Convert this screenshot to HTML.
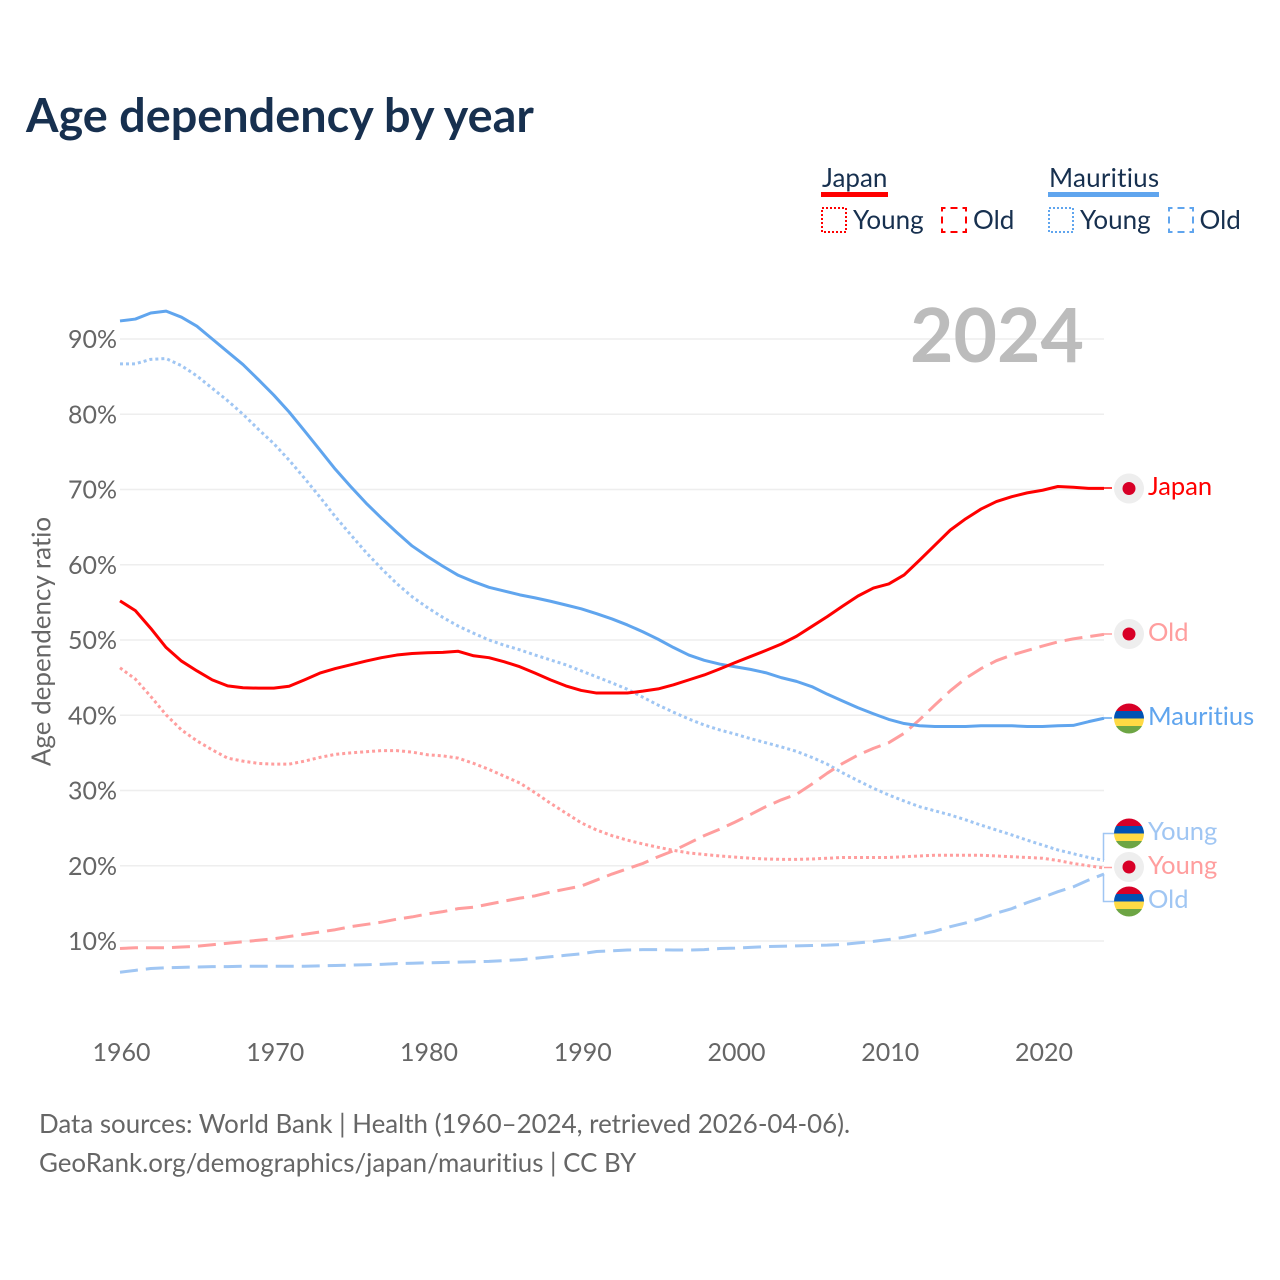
<!DOCTYPE html>
<html lang="en">
<head>
<meta charset="utf-8">
<title>Age dependency by year</title>
<style>
html,body{margin:0;padding:0;background:#fff;}
svg{display:block;}
text{font-family:"Lato","Carlito","Liberation Sans",sans-serif;font-variant-ligatures:none;}
</style>
</head>
<body>
<svg id="chart" xmlns="http://www.w3.org/2000/svg" width="1280" height="1280" viewBox="0 0 1280 1280">
  <defs>
    <clipPath id="clip-flag"><circle cx="0" cy="0" r="15"/></clipPath>
  </defs>
  <rect width="1280" height="1280" fill="#fff"/>
  <text x="26" y="132" font-size="46.800" font-weight="700" fill="#17304f">Age dependency by year</text>

  <g font-size="26" fill="#17304f">
    <text x="822" y="187">Japan</text>
    <rect x="821" y="192" width="67" height="5" fill="#ff0000"/>
    <rect x="822" y="208" width="24" height="24" fill="none" stroke="#ff0000" stroke-width="2" stroke-dasharray="2 2"/>
    <text x="853" y="229">Young</text>
    <rect x="942" y="208" width="24" height="24" fill="none" stroke="#ff0000" stroke-width="2" stroke-dasharray="7 5" stroke-dashoffset="3.500"/>
    <text x="973" y="229">Old</text>
    <text x="1049" y="187" letter-spacing="0.25">Mauritius</text>
    <rect x="1048" y="192" width="111" height="5" fill="#60a5ee"/>
    <rect x="1049" y="208" width="24" height="24" fill="none" stroke="#60a5ee" stroke-width="2" stroke-dasharray="2 2"/>
    <text x="1080" y="229">Young</text>
    <rect x="1169" y="208" width="24" height="24" fill="none" stroke="#60a5ee" stroke-width="2" stroke-dasharray="7 5" stroke-dashoffset="3.500"/>
    <text x="1199.500" y="229">Old</text>
  </g>

  <g id="grid"></g>
  <g id="y-ticks"></g>
  <g id="x-ticks"></g>
  <text transform="translate(50.500 641.500) rotate(-90)" text-anchor="middle" font-size="26" fill="#666">Age dependency ratio</text>
  <text x="1084" y="362" text-anchor="end" font-size="75" font-weight="700" fill="#bcbcbc">2024</text>
  <g id="series"></g>

  <g fill="none" stroke-width="1.5">
    <path d="M1104 488H1112" stroke="#ff0000"/>
    <path d="M1104 634H1112" stroke="#ff9e9e"/>
    <path d="M1104 718H1112" stroke="#60a5ee"/>
    <path d="M1103.500 860V833.500H1114" stroke="#a0c6f3"/>
    <path d="M1104 867.500H1112" stroke="#ff9e9e"/>
    <path d="M1103.500 874V901.500H1114" stroke="#a0c6f3"/>
  </g>

  <g transform="translate(1129 488.500)">
    <circle r="15" fill="#eeeeee"/><circle r="6.500" fill="#d80027"/>
  </g>
  <g transform="translate(1129 634)">
    <circle r="15" fill="#eeeeee"/><circle r="6.500" fill="#d80027"/>
  </g>
  <g transform="translate(1129 867)">
    <circle r="15" fill="#eeeeee"/><circle r="6.500" fill="#d80027"/>
  </g>
  <g transform="translate(1129 718.500)">
    <g clip-path="url(#clip-flag)"><rect x="-15" y="-15" width="30" height="8" fill="#d80027"/><rect x="-15" y="-7.500" width="30" height="7.500" fill="#0052b4"/><rect x="-15" y="0" width="30" height="7.500" fill="#ffda44"/><rect x="-15" y="7.500" width="30" height="7.500" fill="#6da544"/></g>
  </g>
  <g transform="translate(1129 833.500)">
    <g clip-path="url(#clip-flag)"><rect x="-15" y="-15" width="30" height="8" fill="#d80027"/><rect x="-15" y="-7.500" width="30" height="7.500" fill="#0052b4"/><rect x="-15" y="0" width="30" height="7.500" fill="#ffda44"/><rect x="-15" y="7.500" width="30" height="7.500" fill="#6da544"/></g>
  </g>
  <g transform="translate(1129 901.500)">
    <g clip-path="url(#clip-flag)"><rect x="-15" y="-15" width="30" height="8" fill="#d80027"/><rect x="-15" y="-7.500" width="30" height="7.500" fill="#0052b4"/><rect x="-15" y="0" width="30" height="7.500" fill="#ffda44"/><rect x="-15" y="7.500" width="30" height="7.500" fill="#6da544"/></g>
  </g>

  <g font-size="25.500">
    <text x="1148" y="495" fill="#ff0000">Japan</text>
    <text x="1148" y="641" fill="#ff9e9e">Old</text>
    <text x="1148" y="725" fill="#60a5ee">Mauritius</text>
    <text x="1148" y="840" fill="#a0c6f3">Young</text>
    <text x="1148" y="874" fill="#ff9e9e">Young</text>
    <text x="1148" y="908" fill="#a0c6f3">Old</text>
  </g>

  <text x="39" y="1133" font-size="25.900" fill="#666">Data sources: World Bank | Health (1960–2024, retrieved 2026-04-06).</text>
  <text x="39" y="1172" font-size="25.900" fill="#666">GeoRank.org/demographics/japan/mauritius | CC BY</text>
</svg>
<script>
var years = [];
for (var yr = 1960; yr <= 2024; yr++) { years.push(yr); }
var yTickValues = [10, 20, 30, 40, 50, 60, 70, 80, 90];
var xTickValues = [1960, 1970, 1980, 1990, 2000, 2010, 2020];

var japanTotal = [55.2,53.9,51.55,49.0,47.2,45.9,44.7,43.9,43.65,43.6,
  43.6,43.85,44.7,45.6,46.2,46.7,47.2,47.65,48.0,48.2,
  48.3,48.35,48.5,47.9,47.65,47.1,46.45,45.6,44.7,43.9,
  43.3,42.95,42.95,42.95,43.2,43.5,44.05,44.7,45.35,46.15,
  47.0,47.8,48.6,49.45,50.5,51.8,53.1,54.5,55.85,56.9,
  57.45,58.65,60.6,62.6,64.6,66.1,67.4,68.4,69.05,69.55,
  69.9,70.4,70.3,70.15,70.15];
var japanOld = [9.0,9.1,9.1,9.1,9.2,9.3,9.5,9.7,9.9,10.1,
  10.3,10.6,10.9,11.2,11.5,11.9,12.2,12.5,12.9,13.2,
  13.6,13.9,14.3,14.5,14.9,15.3,15.7,16.0,16.5,16.9,
  17.3,18.1,18.9,19.6,20.3,21.2,22.0,23.0,24.0,24.85,
  25.8,26.8,27.85,28.75,29.5,30.85,32.3,33.6,34.7,35.6,
  36.35,37.6,39.4,41.35,43.25,44.9,46.2,47.25,48.0,48.6,
  49.2,49.75,50.15,50.45,50.75];
var japanYoung = [46.3,44.8,42.5,40.05,38.05,36.6,35.4,34.3,33.9,33.6,
  33.5,33.5,33.9,34.4,34.8,35.0,35.15,35.3,35.3,35.1,
  34.75,34.6,34.3,33.6,32.8,31.9,31.0,29.7,28.3,27.0,
  25.7,24.75,24.0,23.4,22.9,22.45,22.05,21.7,21.5,21.3,
  21.15,21.0,20.9,20.85,20.85,20.9,21.0,21.1,21.1,21.1,
  21.1,21.2,21.3,21.4,21.4,21.4,21.4,21.3,21.2,21.1,
  21.0,20.7,20.3,20.0,19.7];
var mauritiusTotal = [92.4,92.65,93.45,93.7,92.9,91.7,90.0,88.3,86.6,84.6,
  82.55,80.3,77.8,75.25,72.7,70.4,68.2,66.2,64.3,62.5,
  61.1,59.8,58.6,57.75,57.0,56.5,56.0,55.6,55.15,54.65,
  54.15,53.5,52.8,52.0,51.1,50.1,49.0,48.0,47.3,46.8,
  46.45,46.1,45.65,45.0,44.5,43.8,42.8,41.9,41.0,40.2,
  39.45,38.9,38.6,38.5,38.5,38.5,38.6,38.6,38.6,38.5,
  38.5,38.6,38.65,39.15,39.6];
var mauritiusYoung = [86.7,86.7,87.3,87.4,86.45,85.1,83.45,81.8,80.0,78.0,
  76.1,73.9,71.5,69.0,66.4,64.0,61.65,59.5,57.5,55.75,
  54.3,53.0,51.85,50.9,50.0,49.3,48.7,48.0,47.35,46.7,
  45.9,45.1,44.3,43.45,42.4,41.35,40.4,39.5,38.7,38.05,
  37.5,36.9,36.35,35.8,35.2,34.4,33.5,32.35,31.3,30.3,
  29.4,28.6,27.85,27.3,26.75,26.1,25.4,24.75,24.1,23.4,
  22.75,22.1,21.6,21.1,20.7];
var mauritiusOld = [5.85,6.1,6.35,6.45,6.5,6.55,6.6,6.6,6.65,6.65,
  6.65,6.65,6.65,6.7,6.75,6.8,6.85,6.9,7.0,7.05,
  7.1,7.15,7.2,7.25,7.3,7.4,7.5,7.7,7.9,8.1,
  8.3,8.6,8.7,8.8,8.85,8.85,8.8,8.8,8.85,9.0,
  9.05,9.15,9.25,9.3,9.35,9.4,9.45,9.55,9.75,9.95,
  10.2,10.5,10.9,11.3,11.9,12.4,13.0,13.7,14.3,15.1,
  15.8,16.55,17.2,18.1,18.9];

var NS = 'http://www.w3.org/2000/svg';
function xScale(year) { return 120 + (year - 1960) * (1104 - 120) / 64; }
function yScale(value) { return 941 - (value - 10) * 7.525; }
function make(tag, parent, attrs) {
  var el = document.createElementNS(NS, tag);
  for (var k in attrs) { el.setAttribute(k, attrs[k]); }
  parent.appendChild(el);
  return el;
}

var gridGroup = document.getElementById('grid');
var yGroup = document.getElementById('y-ticks');
var xGroup = document.getElementById('x-ticks');
var seriesGroup = document.getElementById('series');

yTickValues.forEach(function (v) {
  var line = make('line', gridGroup, { x1: 120, x2: 1104, y1: yScale(v), y2: yScale(v), stroke: '#eeeeee', 'stroke-width': 1.5 });
  
  
  var label = make('text', yGroup, { x: 117, y: yScale(v) + 9, 'text-anchor': 'end', 'font-size': 25, fill: '#666' });
  
  
  label.textContent = v + '%';
});

xTickValues.forEach(function (t) {
  var label = make('text', xGroup, { x: xScale(t) + 1.5, y: 1061, 'text-anchor': 'middle', 'font-size': 25, fill: '#666' });
  
  
  label.textContent = t;
});

function drawLine(values, color, dash, name) {
  var d = values.map(function (v, i) {
    return (i ? 'L' : 'M') + xScale(years[i]).toFixed(2) + ' ' + yScale(v).toFixed(2);
  }).join('');
  var path = make('path', seriesGroup, { d: d, fill: 'none', stroke: color, 'stroke-width': 3, 'stroke-linejoin': 'round' });
  if (dash) { path.setAttribute('stroke-dasharray', dash); }
  
  
}

drawLine(mauritiusOld, '#a0c6f3', '18 8', 'line-mauritius-old');
drawLine(mauritiusYoung, '#a0c6f3', '3 3', 'line-mauritius-young');
drawLine(japanOld, '#ff9e9e', '18 8', 'line-japan-old');
drawLine(japanYoung, '#ff9e9e', '3 3', 'line-japan-young');
drawLine(mauritiusTotal, '#60a5ee', '', 'line-mauritius-total');
drawLine(japanTotal, '#ff0000', '', 'line-japan-total');
</script>
</body>
</html>
